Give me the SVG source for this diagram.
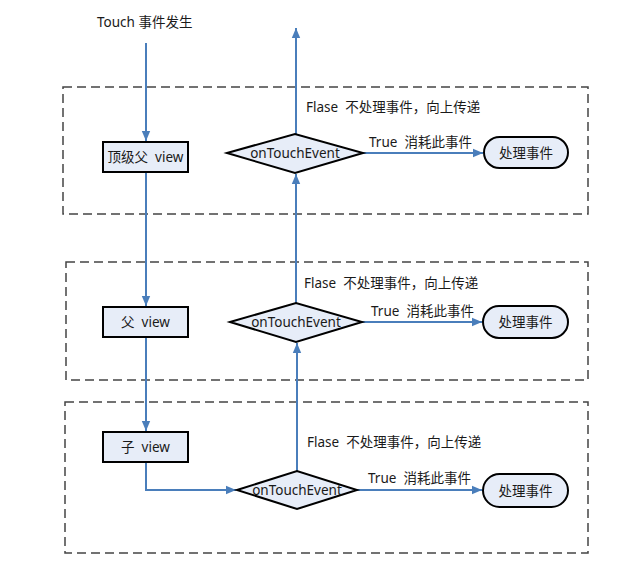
<svg xmlns="http://www.w3.org/2000/svg" width="623" height="577" viewBox="0 0 623 577">
<style>
text{font-family:"Noto Sans","Noto Sans CJK SC",sans-serif;font-size:13.5px;fill:#1a1a1a;white-space:pre}
.c{text-anchor:middle;dominant-baseline:central}
.grp{fill:none;stroke:#444;stroke-width:1.5;stroke-dasharray:9 5}
.node{fill:#e7edf8;stroke:#000;stroke-width:2}
.conn{fill:none;stroke:#4a7ebb;stroke-width:2}
</style>
<defs>
<marker id="ah" markerUnits="userSpaceOnUse" markerWidth="10" markerHeight="10" viewBox="0 0 10 10" refX="10" refY="5" orient="auto">
<path d="M0,0.8 L10,5 L0,9.2 Z" fill="#4a7ebb"/>
</marker>
</defs>
<rect width="623" height="577" fill="#fff"/>
<g id="groups">
<rect class="grp" x="63" y="87" width="525" height="127"/>
<rect class="grp" x="66" y="262" width="522" height="118"/>
<rect class="grp" x="65" y="402" width="523" height="151"/>
</g>
<g id="connectors">
<path class="conn" d="M146,43 V141" marker-end="url(#ah)"/>
<path class="conn" d="M146,172 V306" marker-end="url(#ah)"/>
<path class="conn" d="M146,337 V431" marker-end="url(#ah)"/>
<path class="conn" d="M146,462 V490 H236" marker-end="url(#ah)"/>
<path class="conn" d="M296,134 V28" marker-end="url(#ah)"/>
<path class="conn" d="M296,303 V174" marker-end="url(#ah)"/>
<path class="conn" d="M297,471 V343" marker-end="url(#ah)"/>
<path class="conn" d="M363,153 H483" marker-end="url(#ah)"/>
<path class="conn" d="M362,322 H482" marker-end="url(#ah)"/>
<path class="conn" d="M357,490 H482" marker-end="url(#ah)"/>
<text x="306" y="107" dominant-baseline="central" xml:space="preserve">Flase  不处理事件，向上传递</text>
<text x="369" y="142" dominant-baseline="central" xml:space="preserve">True  消耗此事件</text>
<text x="304" y="283" dominant-baseline="central" xml:space="preserve">Flase  不处理事件，向上传递</text>
<text x="371" y="311" dominant-baseline="central" xml:space="preserve">True  消耗此事件</text>
<text x="307" y="442" dominant-baseline="central" xml:space="preserve">Flase  不处理事件，向上传递</text>
<text x="368" y="478" dominant-baseline="central" xml:space="preserve">True  消耗此事件</text>
</g>
<g id="start"><text x="97" y="22" dominant-baseline="central">Touch 事件发生</text></g>
<g id="top-view"><rect class="node" x="103" y="142" width="85" height="30"/><text class="c" x="145.5" y="157" xml:space="preserve">顶级父  view</text></g>
<g id="parent-view"><rect class="node" x="103" y="307" width="85" height="30"/><text class="c" x="145.5" y="322" xml:space="preserve">父  view</text></g>
<g id="child-view"><rect class="node" x="103" y="432" width="85" height="30"/><text class="c" x="145.5" y="447" xml:space="preserve">子  view</text></g>
<g id="top-decision"><polygon class="node" points="227,153 295,134 363,153 295,173"/><text class="c" x="295" y="153">onTouchEvent</text></g>
<g id="parent-decision"><polygon class="node" points="230,322 296,303 362,322 296,342"/><text class="c" x="296" y="322">onTouchEvent</text></g>
<g id="child-decision"><polygon class="node" points="237,490 297,471 357,490 297,509"/><text class="c" x="297" y="490">onTouchEvent</text></g>
<g id="top-handle"><rect class="node" x="484" y="137" width="84" height="31" rx="15.5"/><text class="c" x="526" y="152.5">处理事件</text></g>
<g id="parent-handle"><rect class="node" x="483" y="306" width="85" height="32" rx="16"/><text class="c" x="525.5" y="322">处理事件</text></g>
<g id="child-handle"><rect class="node" x="483" y="474" width="85" height="33" rx="16.5"/><text class="c" x="525.5" y="490.5">处理事件</text></g>
</svg>
